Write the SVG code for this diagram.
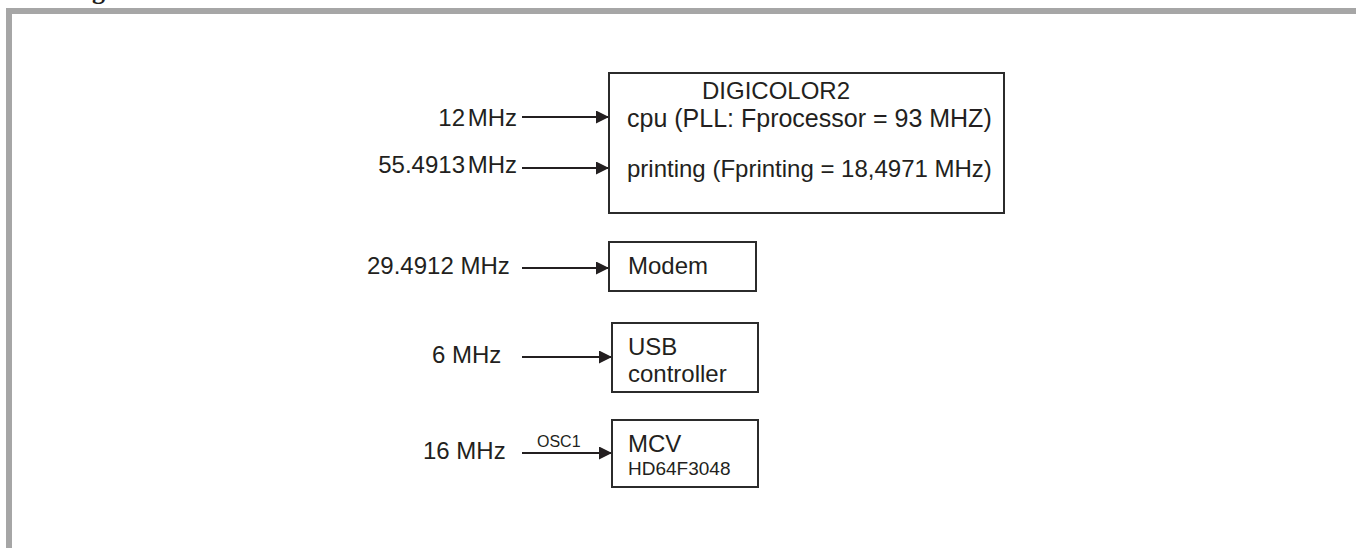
<svg xmlns="http://www.w3.org/2000/svg" width="1356" height="548" viewBox="0 0 1356 548">
<style>
  text { font-family: "Liberation Sans", Arial, sans-serif; fill: #231f20; }
  .lbl { font-size: 24px; }
  .box { fill: #ffffff; stroke: #2b2b2b; stroke-width: 2; }
  .wire { stroke: #231f20; stroke-width: 2; fill: none; marker-end: url(#ah); }
  .frame { fill: #a6a6a6; }
</style>
<defs>
  <marker id="ah" markerWidth="13" markerHeight="13" refX="13" refY="6.5" orient="auto" markerUnits="userSpaceOnUse">
    <path d="M0,0 L13,6.5 L0,13 Z" fill="#231f20"/>
  </marker>
</defs>
<rect width="1356" height="548" fill="#ffffff"/>
<g id="frame">
  <rect class="frame" x="6" y="8" width="1350" height="6"/>
  <rect class="frame" x="6" y="8" width="6" height="540"/>
  <text x="92" y="-1" style="font-family:'Liberation Serif',serif;font-weight:bold;font-size:26px">g</text>
</g>
<g id="connectors">
  <line class="wire" x1="522" y1="117" x2="609" y2="117"/>
  <line class="wire" x1="522" y1="168" x2="609" y2="168"/>
  <line class="wire" x1="522" y1="268" x2="609" y2="268"/>
  <line class="wire" x1="522" y1="357" x2="612" y2="357"/>
  <line class="wire" x1="522" y1="453" x2="612" y2="453"/>
  <text x="537" y="447" style="font-size:16px">OSC1</text>
</g>
<g id="labels">
  <text class="lbl" x="517" y="126" text-anchor="end" word-spacing="-4">12 MHz</text>
  <text class="lbl" x="517" y="173" text-anchor="end" word-spacing="-4">55.4913 MHz</text>
  <text class="lbl" x="367" y="274">29.4912 MHz</text>
  <text class="lbl" x="432" y="363">6 MHz</text>
  <text class="lbl" x="423" y="459">16 MHz</text>
</g>
<g id="digicolor2">
  <rect class="box" x="609" y="73" width="395" height="140"/>
  <text class="lbl" x="702" y="99">DIGICOLOR2</text>
  <text x="627" y="127" style="font-size:25px">cpu (PLL: Fprocessor = 93 MHZ)</text>
  <text class="lbl" x="627" y="177">printing (Fprinting = 18,4971 MHz)</text>
</g>
<g id="modem">
  <rect class="box" x="609" y="242" width="147" height="49"/>
  <text class="lbl" x="628" y="274">Modem</text>
</g>
<g id="usb">
  <rect class="box" x="612" y="323" width="146" height="69"/>
  <text class="lbl" x="628" y="355">USB</text>
  <text class="lbl" x="628" y="382">controller</text>
</g>
<g id="mcv">
  <rect class="box" x="612" y="420" width="146" height="67"/>
  <text class="lbl" x="628" y="452">MCV</text>
  <text x="628" y="475" style="font-size:19px">HD64F3048</text>
</g>
</svg>
